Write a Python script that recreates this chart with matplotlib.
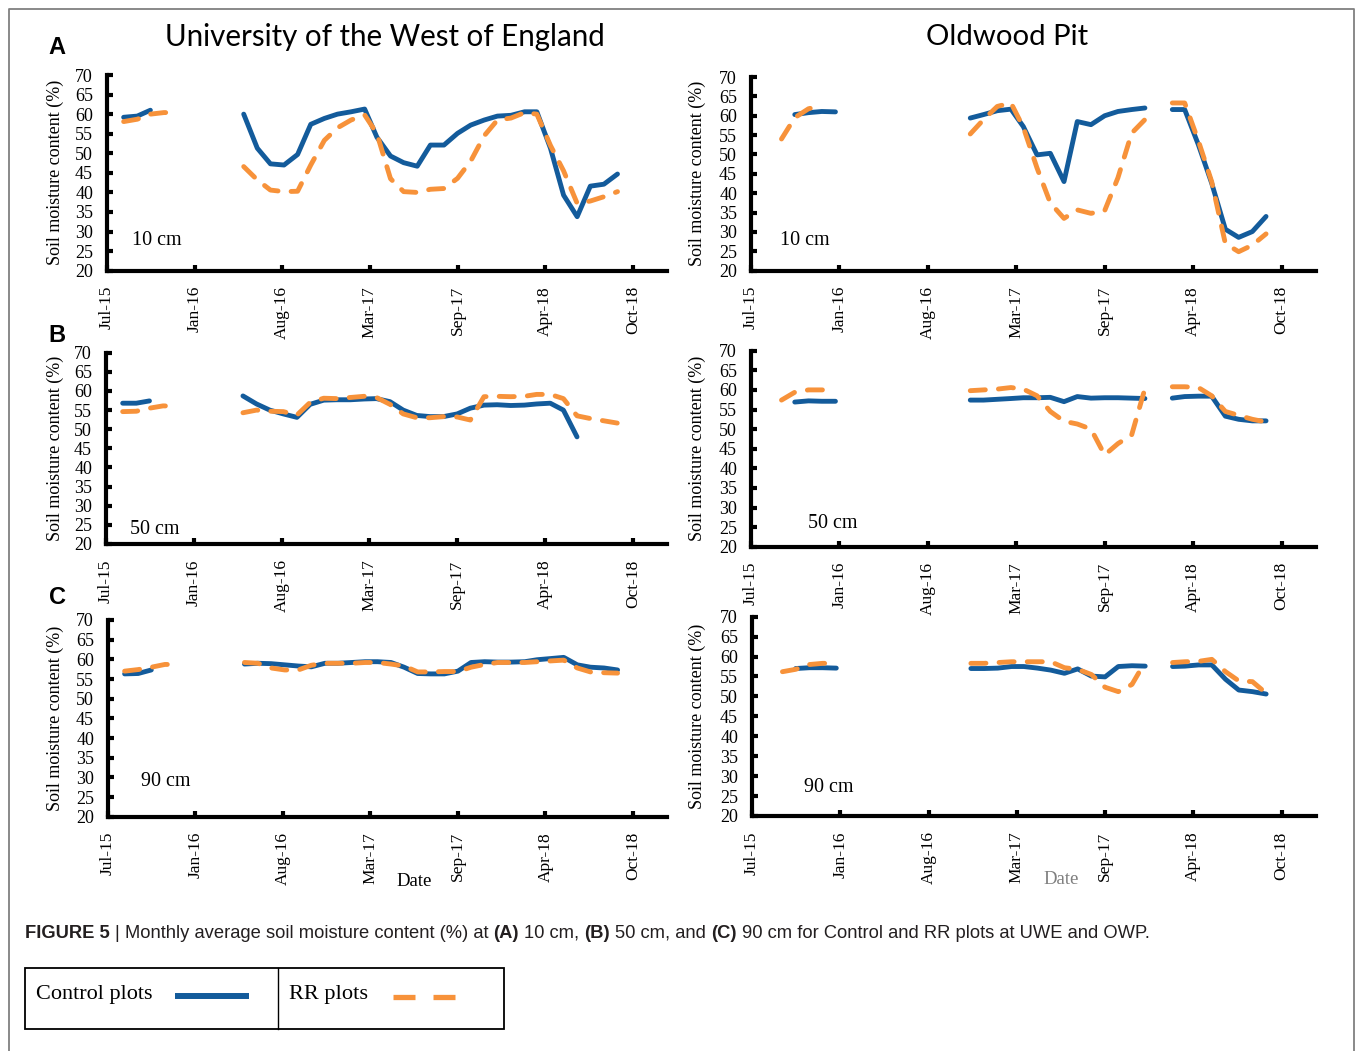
import numpy as np
import pandas as pd
import matplotlib
matplotlib.use("Agg")
import matplotlib.pyplot as plt
from matplotlib.lines import Line2D
from matplotlib.patches import Rectangle

# ---------------- data ----------------
N = None
MONTHS = [d.strftime("%Y-%m") for d in pd.date_range("2015-08-01", "2018-09-01", freq="MS")]
TICK_LABELS = ["Jul-15", "Jan-16", "Aug-16", "Mar-17", "Sep-17", "Apr-18", "Oct-18"]
Y_TICKS = [20, 25, 30, 35, 40, 45, 50, 55, 60, 65, 70]

UWE_10_CTRL = [59.2, 59.5, 61.0, N, N, N, N, N, N,
               60.0, 51.3, 47.3, 47.0, 49.7, 57.4, 58.9, 60.0, 60.6, 61.3, 54.1, 49.3, 47.6, 46.7,
               52.1, 52.1, 55.1, 57.2, 58.5, 59.5, 59.7, 60.6, 60.6, 51.3, 39.3, 33.8, 41.6, 42.1, 44.7]
UWE_10_RR = [58.1, 58.7, 60.0, 60.4, 60.4, N, N, N, N,
             46.6, 43.2, 40.6, 40.2, 40.3, 47.0, 53.3, 56.5, 58.5, 59.8, 55.0, 43.5, 40.2, 40.0,
             40.8, 41.0, 43.6, 48.0, 54.5, 58.5, 59.0, 60.4, 60.0, 52.0, 45.5, 37.2, 37.8, 38.9, 40.2]
OWP_10_CTRL = [N, N, 60.3, 60.8, 61.1, 61.0, N, N, N, N, N, N, N, N, N,
               59.4, 60.3, 61.3, 61.7, 57.2, 49.9, 50.3, 43.0, 58.5, 57.7, 60.0, 61.1, 61.6, 62.0,
               N, 61.6, 61.6, 52.5, 42.6, 30.7, 28.6, 30.1, 34.0]
OWP_10_RR = [N, 54.0, 59.5, 61.8, 62.6, N, N, N, N, N, N, N, N, N, N,
             55.3, 59.0, 62.4, 63.3, 57.0, 46.5, 37.5, 33.5, 35.7, 34.8, 35.5, 44.0, 55.5, 59.0,
             N, 63.3, 63.3, 53.5, 43.0, 27.0, 24.9, 26.6, 29.5]

UWE_50_CTRL = [56.8, 56.8, 57.4, N, N, N, N, N, N,
               58.7, 56.6, 55.0, 54.0, 53.1, 56.5, 57.6, 57.7, 57.7, 57.9, 58.0, 57.2, 55.0, 53.6,
               53.3, 53.3, 54.0, 55.5, 56.3, 56.4, 56.2, 56.3, 56.6, 56.8, 55.0, 48.0, N, N, N]
UWE_50_RR = [54.6, 54.7, 55.5, 56.1, 56.0, N, N, N, N,
             54.3, 55.0, 54.7, 54.6, 53.7, 57.0, 58.1, 58.0, 58.3, 58.6, 58.3, 56.5, 54.0, 53.0,
             53.0, 53.3, 53.2, 52.4, 58.5, 58.6, 58.5, 58.6, 59.1, 59.1, 58.0, 53.5, 52.8, 52.2, 51.6]
OWP_50_CTRL = [N, N, 56.9, 57.2, 57.1, 57.1, N, N, N, N, N, N, N, N, N,
               57.4, 57.4, 57.6, 57.8, 58.0, 58.0, 58.1, 57.0, 58.3, 57.9, 58.0, 58.0, 57.9, 57.8,
               N, 57.9, 58.3, 58.4, 58.4, 53.3, 52.5, 52.1, 52.1]
OWP_50_RR = [N, 57.4, 59.4, 60.0, 60.0, 60.0, N, N, N, N, N, N, N, N, N,
             59.8, 60.0, 60.2, 60.6, 60.2, 58.5, 54.5, 52.0, 51.3, 50.0, 43.4, 46.3, 48.5, 60.3,
             N, 60.8, 60.8, 60.6, 58.5, 54.5, 53.5, 52.5, 51.8]

UWE_90_CTRL = [56.3, 56.4, 57.3, N, N, N, N, N, N,
               58.8, 59.0, 58.9, 58.6, 58.3, 58.1, 59.0, 59.0, 59.2, 59.4, 59.4, 59.2, 58.0, 56.4,
               56.3, 56.3, 57.0, 59.2, 59.4, 59.3, 59.3, 59.4, 59.9, 60.2, 60.5, 58.6, 58.0, 57.8, 57.3]
UWE_90_RR = [57.0, 57.4, 58.0, 58.7, 58.7, N, N, N, N,
             59.2, 59.0, 57.8, 57.3, 57.3, 58.5, 59.0, 59.0, 59.0, 59.2, 59.2, 58.8, 58.3, 56.8,
             56.8, 56.9, 56.9, 58.0, 58.7, 59.2, 59.2, 59.2, 59.4, 59.6, 59.8, 57.8, 56.8, 56.6, 56.5]
OWP_90_CTRL = [N, N, 57.0, 57.2, 57.2, 57.1, N, N, N, N, N, N, N, N, N,
               57.0, 57.0, 57.1, 57.5, 57.5, 57.1, 56.6, 55.8, 56.9, 55.1, 54.9, 57.5, 57.7, 57.6,
               N, 57.5, 57.6, 57.9, 57.9, 54.3, 51.6, 51.2, 50.6]
OWP_90_RR = [N, 56.2, 56.8, 58.0, 58.3, 58.3, N, N, N, N, N, N, N, N, N,
             58.3, 58.3, 58.5, 58.7, 58.7, 58.7, 58.7, 57.2, 56.8, 55.5, 52.3, 51.2, 53.0, 58.7,
             N, 58.5, 58.7, 58.8, 59.3, 56.2, 53.9, 53.7, 50.8]

DEPTHS = ["10 cm", "50 cm", "90 cm"]
SITES = ["University of the West of England", "Oldwood Pit"]

# ---------------- style ----------------
W, H = 1355, 1051
BLUE = "#135B9B"
ORANGE = "#F7923A"
SERIF = "Liberation Serif"
SANS = "Liberation Sans"

fig = plt.figure(figsize=(W / 100, H / 100), dpi=100)
fig.patch.set_facecolor("white")

BASE = pd.Timestamp("2015-07-15")
xdays = np.array([(pd.Timestamp(m + "-22") - BASE).days for m in MONTHS], dtype=float)
TICK_DAYS = [200 * k for k in range(len(TICK_LABELS))]
XMAX = 1278


def fx(x):
    return x / W


def fy(y):
    return 1 - y / H


def rect(x0, x1, ytop, ybot):
    return [x0 / W, 1 - ybot / H, (x1 - x0) / W, (ybot - ytop) / H]


layout = [
    [(107, 667, 75, 270.7), (751, 1316, 77, 270.7)],
    [(106, 667, 352.7, 544), (751, 1316, 350.7, 546.7)],
    [(108, 667, 620, 816.7), (752, 1316, 616.7, 816)],
]
series = [
    [(UWE_10_CTRL, UWE_10_RR), (OWP_10_CTRL, OWP_10_RR)],
    [(UWE_50_CTRL, UWE_50_RR), (OWP_50_CTRL, OWP_50_RR)],
    [(UWE_90_CTRL, UWE_90_RR), (OWP_90_CTRL, OWP_90_RR)],
]
depth_pos = [[(157, 240), (805, 240)],
             [(155, 530), (833, 523)],
             [(166, 782), (829, 788)]]

for r in range(3):
    for c in range(2):
        x0, x1, yt, yb = layout[r][c]
        ax = fig.add_axes(rect(x0, x1, yt, yb))
        ctrl, rr = series[r][c]
        ax.plot(xdays, np.array(ctrl, dtype=float), color=BLUE, lw=3.5,
                solid_capstyle="round", solid_joinstyle="round", zorder=3)
        ax.plot(xdays, np.array(rr, dtype=float), color=ORANGE, lw=3.5,
                linestyle=(0, (3.1, 2.7)), dash_capstyle="round",
                dash_joinstyle="round", zorder=4)
        ax.set_xlim(0, XMAX)
        ax.set_ylim(20, 70)
        ax.set_yticks(Y_TICKS)
        ax.set_yticklabels([str(v) for v in Y_TICKS], fontfamily=SERIF, fontsize=13)
        ax.set_xticks(TICK_DAYS)
        ax.set_xticklabels(TICK_LABELS, rotation=90, fontfamily=SERIF, fontsize=12.5)
        for s in ["top", "right"]:
            ax.spines[s].set_visible(False)
        for s in ["left", "bottom"]:
            ax.spines[s].set_linewidth(3)
            ax.spines[s].set_color("black")
        ax.tick_params(axis="both", direction="in", length=4, width=3, color="black")
        ax.tick_params(axis="y", pad=10)
        ax.tick_params(axis="x", pad=11)
        ax.patch.set_visible(False)
        ylab_x = 55 if c == 0 else 697
        fig.text(fx(ylab_x), fy((yt + yb) / 2), "Soil moisture content (%)", rotation=90,
                 ha="center", va="center", fontfamily=SERIF, fontsize=13)
        dx, dy = depth_pos[r][c]
        fig.text(fx(dx), fy(dy), DEPTHS[r], ha="center", va="center",
                 fontfamily=SERIF, fontsize=14.5)

renderer = fig.canvas.get_renderer()


def fit(t, target_w):
    w = t.get_window_extent(renderer).width
    t.set_fontsize(t.get_fontsize() * target_w / w)


t1 = fig.text(fx(385), fy(37), SITES[0], ha="center", va="center", fontfamily="Lato", fontsize=20)
fit(t1, 441)
t2 = fig.text(fx(1007), fy(37), SITES[1], ha="center", va="center", fontfamily="Lato", fontsize=20)
fit(t2, 162)

for lab, yy in zip(["A", "B", "C"], [48, 335, 597]):
    fig.text(fx(57), fy(yy), lab, ha="center", va="center", fontfamily=SANS,
             fontweight="bold", fontsize=17)

fig.text(fx(414), fy(881), "Date", ha="center", va="center", fontfamily=SERIF, fontsize=13.5)
fig.text(fx(1061), fy(879), "Date", ha="center", va="center", fontfamily=SERIF, fontsize=13.5,
         color="#7f7f7f")

CAPTION = [("FIGURE 5", "bold"), ("|", "normal"), ("Monthly average soil moisture content (%) at", "normal"),
           ("(A)", "bold"), ("10 cm,", "normal"), ("(B)", "bold"), ("50 cm, and", "normal"),
           ("(C)", "bold"), ("90 cm for Control and RR plots at UWE and OWP.", "normal")]


def draw_caption(fs):
    texts = []
    x = 25
    sp_a = fig.text(0, 0, "x x", fontfamily=SANS, fontsize=fs)
    sp_b = fig.text(0, 0, "xx", fontfamily=SANS, fontsize=fs)
    space = sp_a.get_window_extent(renderer).width - sp_b.get_window_extent(renderer).width
    sp_a.remove()
    sp_b.remove()
    for s, wgt in CAPTION:
        t = fig.text(fx(x), fy(933), s, ha="left", va="center", fontfamily=SANS,
                     fontweight=wgt, fontsize=fs, color="#231f20")
        texts.append(t)
        x += t.get_window_extent(renderer).width + space
    return texts, x - space - 25


texts, tw = draw_caption(12)
for t in texts:
    t.remove()
texts, tw = draw_caption(12 * 1127 / tw)

fig.add_artist(Rectangle((fx(25), fy(1029)), (504 - 25) / W, (1029 - 968) / H,
                         transform=fig.transFigure, fill=False, edgecolor="black", lw=1.3))
fig.add_artist(Line2D([fx(278), fx(278)], [fy(968), fy(1029)], transform=fig.transFigure,
                      color="black", lw=1.0))
lt1 = fig.text(fx(36), fy(994), "Control plots", ha="left", va="center", fontfamily=SERIF, fontsize=16)
fit(lt1, 117)
fig.add_artist(Line2D([fx(175), fx(249)], [fy(996), fy(996)], transform=fig.transFigure,
                      color=BLUE, lw=4.3, solid_capstyle="butt"))
lt2 = fig.text(fx(289), fy(994), "RR plots", ha="left", va="center", fontfamily=SERIF, fontsize=16)
fit(lt2, 79)
for a, b in [(393, 415), (433, 455)]:
    fig.add_artist(Line2D([fx(a), fx(b)], [fy(996.5), fy(996.5)], transform=fig.transFigure,
                          color=ORANGE, lw=3.8, solid_capstyle="butt"))

fig.add_artist(Line2D([fx(9), fx(9), fx(1354), fx(1354)], [fy(1051), fy(8.5), fy(8.5), fy(1051)],
                      transform=fig.transFigure, color="#808080", lw=1.3))

fig.savefig("out.png", dpi=100, facecolor="white")
